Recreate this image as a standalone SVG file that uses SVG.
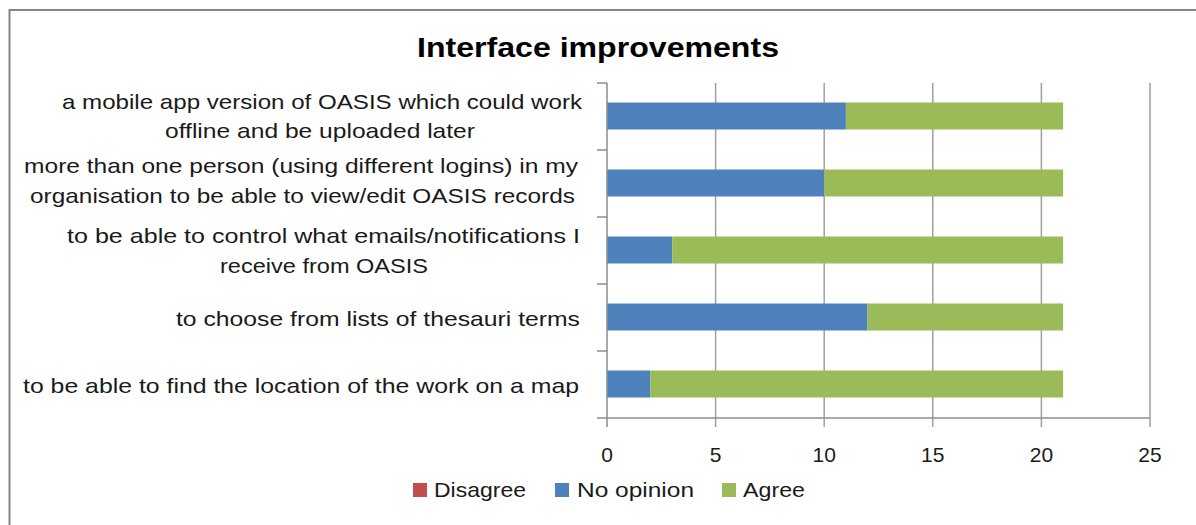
<svg xmlns="http://www.w3.org/2000/svg" width="1196" height="525" viewBox="0 0 1196 525">
<style>
.lbl{font-family:"Liberation Sans",Arial,sans-serif;font-size:21px;fill:#1a1a1a;text-anchor:middle}
.ttl{font-family:"Liberation Sans",Arial,sans-serif;font-size:28px;font-weight:bold;fill:#000;text-anchor:middle}
.grid{stroke:#a0a0a0;stroke-width:1.5;fill:none}
.axis{stroke:#8c8c8c;stroke-width:1.5;fill:none}
.blue{fill:#4f81bd}
.green{fill:#9bbb59}
.red{fill:#c0504d}
</style>
<rect x="0" y="0" width="1196" height="525" fill="#fff"/>
<rect id="frame" x="9.5" y="10" width="1200" height="530" fill="#fff" stroke="#868686" stroke-width="2"/>
<text id="title" class="ttl" x="598" y="57" textLength="362" lengthAdjust="spacingAndGlyphs">Interface improvements</text>

<g id="gridlines" class="grid">
<line x1="715.6" y1="83" x2="715.6" y2="427"/>
<line x1="824.2" y1="83" x2="824.2" y2="427"/>
<line x1="932.8" y1="83" x2="932.8" y2="427"/>
<line x1="1041.4" y1="83" x2="1041.4" y2="427"/>
<line x1="1150" y1="83" x2="1150" y2="427"/>
</g>

<g id="bars">
<g id="row1"><rect class="blue" x="607" y="102.5" width="238.9" height="27"/><rect class="green" x="845.9" y="102.5" width="217.2" height="27"/></g>
<g id="row2"><rect class="blue" x="607" y="169.5" width="217.2" height="27"/><rect class="green" x="824.2" y="169.5" width="238.9" height="27"/></g>
<g id="row3"><rect class="blue" x="607" y="236.5" width="65.2" height="27"/><rect class="green" x="672.2" y="236.5" width="390.9" height="27"/></g>
<g id="row4"><rect class="blue" x="607" y="303.5" width="260.6" height="27"/><rect class="green" x="867.6" y="303.5" width="195.5" height="27"/></g>
<g id="row5"><rect class="blue" x="607" y="370.5" width="43.4" height="27"/><rect class="green" x="650.4" y="370.5" width="412.7" height="27"/></g>
</g>

<g id="axes" class="axis">
<line x1="607" y1="83" x2="607" y2="427"/>
<line x1="597" y1="418" x2="1150" y2="418"/>
<line x1="597" y1="83" x2="607" y2="83"/>
<line x1="597" y1="150" x2="607" y2="150"/>
<line x1="597" y1="217" x2="607" y2="217"/>
<line x1="597" y1="284" x2="607" y2="284"/>
<line x1="597" y1="351" x2="607" y2="351"/>
</g>

<g id="category-labels">
<g id="label1">
<text class="lbl" x="322" y="109" textLength="520" lengthAdjust="spacingAndGlyphs">a mobile app version of OASIS which could work</text>
<text class="lbl" x="320" y="138" textLength="310" lengthAdjust="spacingAndGlyphs">offline and be uploaded later</text>
</g>
<g id="label2">
<text class="lbl" x="301" y="173" textLength="554" lengthAdjust="spacingAndGlyphs">more than one person (using different logins) in my</text>
<text class="lbl" x="302.5" y="203" textLength="545" lengthAdjust="spacingAndGlyphs">organisation to be able to view/edit OASIS records</text>
</g>
<g id="label3">
<text class="lbl" x="323.5" y="243" textLength="513" lengthAdjust="spacingAndGlyphs">to be able to control what emails/notifications I</text>
<text class="lbl" x="324" y="273" textLength="208" lengthAdjust="spacingAndGlyphs">receive from OASIS</text>
</g>
<g id="label4">
<text class="lbl" x="378" y="326" textLength="404" lengthAdjust="spacingAndGlyphs">to choose from lists of thesauri terms</text>
</g>
<g id="label5">
<text class="lbl" x="301" y="393" textLength="556" lengthAdjust="spacingAndGlyphs">to be able to find the location of the work on a map</text>
</g>
</g>

<g id="x-tick-labels">
<text class="lbl" x="607" y="462">0</text>
<text class="lbl" x="715.6" y="462">5</text>
<text class="lbl" x="824.2" y="462">10</text>
<text class="lbl" x="932.8" y="462">15</text>
<text class="lbl" x="1041.4" y="462">20</text>
<text class="lbl" x="1150" y="462">25</text>
</g>

<g id="legend">
<g id="legend-disagree"><rect class="red" x="413" y="483" width="14" height="14"/><text class="lbl" x="480" y="497" textLength="92" lengthAdjust="spacingAndGlyphs">Disagree</text></g>
<g id="legend-noopinion"><rect class="blue" x="555" y="483" width="14" height="14"/><text class="lbl" x="635.5" y="497" textLength="117" lengthAdjust="spacingAndGlyphs">No opinion</text></g>
<g id="legend-agree"><rect class="green" x="722" y="483" width="14" height="14"/><text class="lbl" x="774" y="497" textLength="62" lengthAdjust="spacingAndGlyphs">Agree</text></g>
</g>
</svg>
